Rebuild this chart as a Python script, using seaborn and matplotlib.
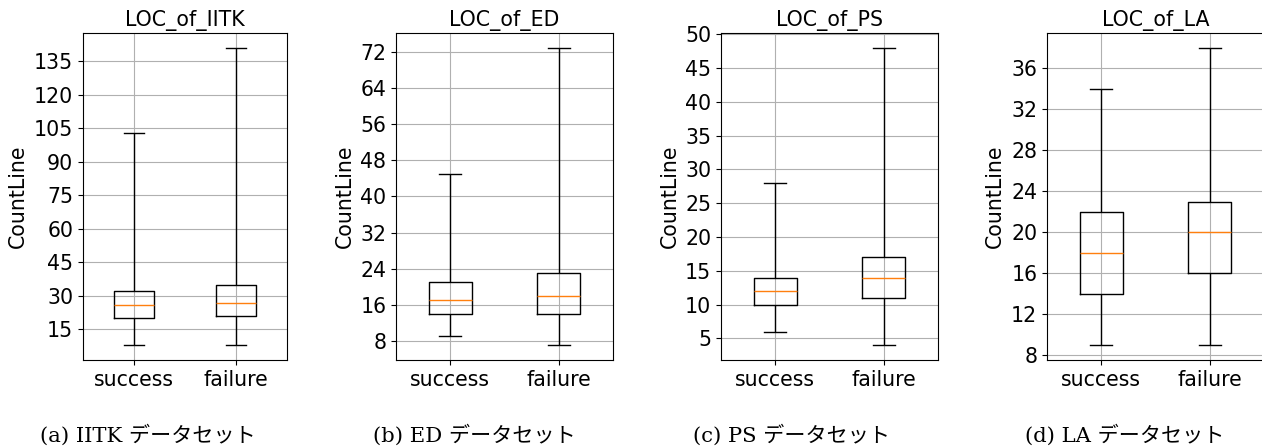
import numpy as np
import pandas as pd
import matplotlib
matplotlib.use("Agg")
import matplotlib.pyplot as plt
import seaborn as sns

# ---- data (five-number summaries: min, Q1, median, Q3, max) ----
groups = ["success", "failure"]
titles = ["LOC_of_IITK", "LOC_of_ED", "LOC_of_PS", "LOC_of_LA"]
captions = ["(a) IITK データセット", "(b) ED データセット",
            "(c) PS データセット", "(d) LA データセット"]

iitk_success = [8, 20, 26, 32, 103]
iitk_failure = [8, 21, 27, 35, 141]
ed_success = [9, 14, 17, 21, 45]
ed_failure = [7, 14, 18, 23, 73]
ps_success = [6, 10, 12, 14, 28]
ps_failure = [4, 11, 14, 17, 48]
la_success = [9, 14, 18, 22, 34]
la_failure = [9, 16, 20, 23, 38]

iitk_ticks = [15, 30, 45, 60, 75, 90, 105, 120, 135]
ed_ticks = [8, 16, 24, 32, 40, 48, 56, 64, 72]
ps_ticks = [5, 10, 15, 20, 25, 30, 35, 40, 45, 50]
la_ticks = [8, 12, 16, 20, 24, 28, 32, 36]

panels = [
    (iitk_success, iitk_failure, iitk_ticks),
    (ed_success, ed_failure, ed_ticks),
    (ps_success, ps_failure, ps_ticks),
    (la_success, la_failure, la_ticks),
]

# ---- layout (pixels) ----
W, H = 1262, 447
DPI = 100
fig = plt.figure(figsize=(W / DPI, H / DPI), dpi=DPI)
fig.patch.set_facecolor("white")

ax_left = [83, 396, 721, 1047]
ax_width = [204, 217, 217, 217]
ax_top, ax_bottom = 33, 360
ylabel_x = [18, 345, 670, 995]
caption_x = [40, 373, 693, 1025]

FS = 14.8
for i, (succ, fail, ticks) in enumerate(panels):
    ax = fig.add_axes([ax_left[i] / W, (H - ax_bottom) / H,
                       ax_width[i] / W, (ax_bottom - ax_top) / H])
    df = pd.DataFrame({
        "group": [groups[0]] * len(succ) + [groups[1]] * len(fail),
        "CountLine": list(succ) + list(fail),
    })
    sns.boxplot(data=df, x="group", y="CountLine", order=groups, ax=ax,
                fill=False, color="black", linecolor="black", width=0.4,
                whis=(0, 100), linewidth=1.0, showfliers=False,
                medianprops={"color": "#ff7f0e", "linewidth": 1.0},
                whiskerprops={"color": "black", "linewidth": 1.0},
                capprops={"color": "black", "linewidth": 1.0},
                boxprops={"color": "black", "linewidth": 1.0})
    ax.set_xlim(-0.5, 1.5)
    ax.set_yticks(ticks)
    lo = min(min(succ), min(fail))
    hi = max(max(succ), max(fail))
    pad = 0.05 * (hi - lo)
    ax.set_ylim(lo - pad, hi + pad)
    ax.grid(True, color="#b0b0b0", linewidth=0.8)
    ax.set_axisbelow(True)
    ax.set_xlabel("")
    ax.set_ylabel("")
    ax.tick_params(labelsize=FS, length=3.5, width=0.8, colors="black")
    for s in ax.spines.values():
        s.set_color("black")
        s.set_linewidth(0.8)
    ax.set_title(titles[i], fontsize=FS, pad=5)
    fig.text(ylabel_x[i] / W, 1 - ((ax_top + ax_bottom) / 2) / H, "CountLine",
             rotation=90, ha="center", va="center", fontsize=FS)
    fig.text(caption_x[i] / W, 1 - 435 / H, captions[i],
             ha="left", va="center", fontsize=15.2,
             family=["DejaVu Serif", "Noto Sans CJK JP"])

fig.savefig("out.png", dpi=DPI)
